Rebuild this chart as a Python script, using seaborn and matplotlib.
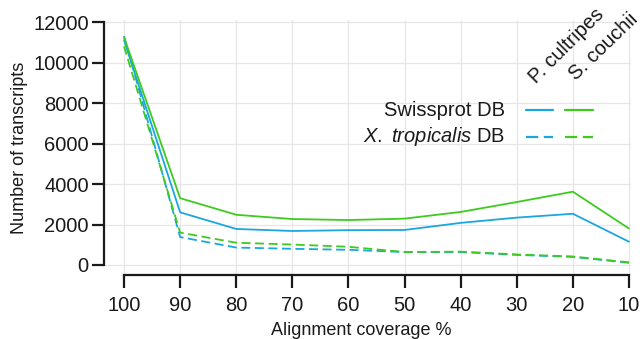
import matplotlib
matplotlib.use("Agg")
import matplotlib.pyplot as plt
import seaborn as sns
import pandas as pd
from matplotlib.lines import Line2D

coverage = [100, 90, 80, 70, 60, 50, 40, 30, 20, 10]
pc_swissprot = [11100, 2600, 1780, 1680, 1720, 1730, 2080, 2340, 2530, 1150]
sc_swissprot = [11250, 3300, 2480, 2270, 2220, 2290, 2620, 3110, 3620, 1800]
pc_xtrop = [11300, 1380, 860, 800, 750, 640, 640, 500, 400, 110]
sc_xtrop = [10800, 1600, 1100, 1010, 900, 640, 660, 520, 420, 130]

species = ["P. cultripes", "S. couchii"]
databases = ["Swissprot DB", "X. tropicalis DB"]

rows = []
for sp, db, vals in [
    ("P. cultripes", "Swissprot DB", pc_swissprot),
    ("S. couchii", "Swissprot DB", sc_swissprot),
    ("P. cultripes", "X. tropicalis DB", pc_xtrop),
    ("S. couchii", "X. tropicalis DB", sc_xtrop),
]:
    for c, v in zip(coverage, vals):
        rows.append({"coverage": c, "count": v, "species": sp, "db": db})
df = pd.DataFrame(rows)

sns.set_theme(style="white")
plt.rcParams["font.family"] = ["Liberation Sans", "DejaVu Sans"]
plt.rcParams["mathtext.fontset"] = "custom"
plt.rcParams["mathtext.it"] = "Liberation Sans:italic"
plt.rcParams["mathtext.rm"] = "Liberation Sans"

W, H = 643, 339
fig = plt.figure(figsize=(W / 100, H / 100), dpi=100)
left, right, top, bottom = 104, 631, 20, 275
ax = fig.add_axes([left / W, 1 - bottom / H, (right - left) / W, (bottom - top) / H])

blue = "#1CA6DE"
green = "#3DCB1F"
palette = {"P. cultripes": blue, "S. couchii": green}
dashes = {"Swissprot DB": "", "X. tropicalis DB": (5, 2.5)}

sns.lineplot(data=df, x="coverage", y="count", hue="species", style="db",
             palette=palette, dashes=dashes, linewidth=1.3, ax=ax, legend=False,
             estimator=None)

px_per_unit = (265 - 22) / 12000
ylow = -(275 - 265) / px_per_unit
yhigh = 12000 + (22 - top) / px_per_unit
ax.set_ylim(ylow, yhigh)
xpx = 56 / 10
ax.set_xlim(100 + (124 - left) / xpx, 10 - (right - 629) / xpx)

ax.set_yticks([0, 2000, 4000, 6000, 8000, 10000, 12000])
ax.set_xticks(coverage)
ax.set_xticklabels([str(c) for c in coverage])
ax.grid(True, color="#e6e6e6", linewidth=0.9)
ax.set_axisbelow(True)

for s in ["top", "right"]:
    ax.spines[s].set_visible(False)
ax.spines["left"].set_bounds(0, 12000)
ax.spines["bottom"].set_bounds(100, 10)
for s in ["left", "bottom"]:
    ax.spines[s].set_color("#1a1a1a")
    ax.spines[s].set_linewidth(1.6)

ax.tick_params(axis="both", which="major", direction="out", length=9, width=1.6,
               color="#1a1a1a", labelsize=14.5, labelcolor="#1a1a1a",
               bottom=True, left=True)
ax.tick_params(axis="y", pad=2)
ax.tick_params(axis="x", pad=6)
ax.set_xlabel("Alignment coverage %", fontsize=13, color="#1a1a1a", labelpad=3)
ax.xaxis.set_label_coords((361 - left) / (right - left), -(322 - bottom) / (bottom - top),
                          transform=ax.transAxes)
ax.xaxis.label.set_va("top")
ax.set_ylabel("Number of transcripts", fontsize=13, color="#1a1a1a", labelpad=4)

def fx(px):
    return px / W

def fy(py):
    return 1 - py / H

row_y = [110, 137]
col_x = [(526, 553), (565, 593)]
cols = [blue, green]
for ri, db in enumerate(databases):
    for ci, sp in enumerate(species):
        x0, x1 = col_x[ci]
        ln = Line2D([fx(x0), fx(x1)], [fy(row_y[ri]), fy(row_y[ri])],
                    transform=fig.transFigure, color=cols[ci], linewidth=1.6,
                    linestyle="-" if ri == 0 else (0, (5.5, 2.5)))
        fig.add_artist(ln)

fig.text(fx(505), fy(110), "Swissprot DB", ha="right", va="center",
         fontsize=14.5, color="#1a1a1a")
fig.text(fx(505), fy(137), r"$\mathit{X.}$ $\mathit{tropicalis}$ DB", ha="right",
         va="center", fontsize=14.5, color="#1a1a1a")
fig.text(fx(536), fy(84), "P. cultripes", rotation=45, ha="left", va="baseline",
         rotation_mode="anchor", fontsize=14.5, color="#1a1a1a")
fig.text(fx(576), fy(81), "S. couchii", rotation=44, ha="left", va="baseline",
         rotation_mode="anchor", fontsize=14.5, color="#1a1a1a")

fig.savefig("out.png", dpi=100)
